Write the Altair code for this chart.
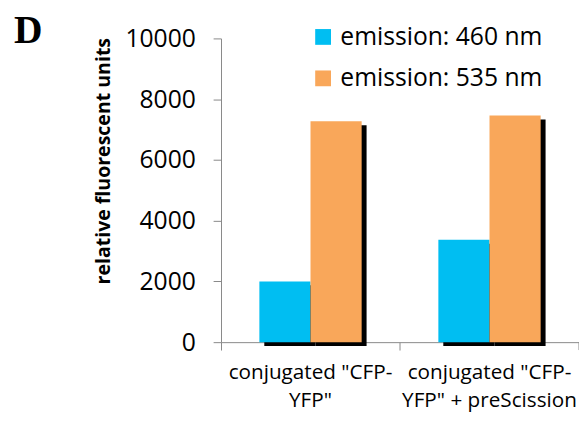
import altair as alt
import pandas as pd

categories = ['conjugated "CFP-YFP"', 'conjugated "CFP-YFP" + preScission']
series = ["emission: 460 nm", "emission: 535 nm"]
values_460 = [2000, 3370]
values_535 = [7270, 7460]
colors = ["#00BEF2", "#F9A75A"]
y_ticks = [0, 2000, 4000, 6000, 8000, 10000]

rows = []
for i, c in enumerate(categories):
    rows.append({"category": c, "series": series[0], "value": values_460[i]})
    rows.append({"category": c, "series": series[1], "value": values_535[i]})
df = pd.DataFrame(rows)

W, H = 363, 308
BAND = W / 2
FONT = "Open Sans"

x_enc = alt.X(
    "category:N",
    sort=categories,
    scale=alt.Scale(paddingInner=0, paddingOuter=0),
    axis=alt.Axis(
        title=None,
        labelAngle=0,
        bandPosition=0,
        tickSize=8,
        tickColor="#888888",
        domainColor="#888888",
        labelFont=FONT,
        labelFontSize=21,
        labelColor="black",
        labelPadding=12,
        labelLineHeight=28,
        labelBaseline="top",
        labelLimit=0,
        labelExpr="[substring(datum.label, 0, 16), substring(datum.label, 16)]",
    ),
)
y_enc = alt.Y(
    "value:Q",
    scale=alt.Scale(domain=[0, 10000]),
    axis=alt.Axis(
        title="relative fluorescent units",
        titleFont=FONT,
        titleFontSize=19.8,
        titleFontWeight="bold",
        titleColor="black",
        titlePadding=12,
        titleY=124,
        values=y_ticks,
        format="d",
        grid=False,
        tickSize=8,
        tickColor="#888888",
        domainColor="#888888",
        labelFont=FONT,
        labelFontSize=25,
        labelColor="black",
        labelPadding=18,
    ),
)


def xo(shift):
    return alt.XOffset(
        "series:N",
        sort=series,
        scale=alt.Scale(
            paddingInner=0, paddingOuter=0.75, range=[shift, BAND + shift]
        ),
    )


shadow = (
    alt.Chart(df)
    .mark_bar(color="black", yOffset=4, y2Offset=2)
    .encode(x=x_enc, xOffset=xo(5), y=y_enc)
)
bars = (
    alt.Chart(df)
    .mark_bar()
    .encode(
        x=x_enc,
        xOffset=xo(0),
        y=y_enc,
        color=alt.Color(
            "series:N",
            sort=series,
            scale=alt.Scale(domain=series, range=colors),
            legend=alt.Legend(
                title=None,
                orient="none",
                legendX=91,
                legendY=-14,
                symbolType="square",
                symbolSize=256,
                symbolStrokeWidth=0,
                labelFont=FONT,
                labelFontSize=25,
                labelColor="black",
                labelOffset=5,
                labelLimit=0,
                rowPadding=16,
            ),
        ),
    )
)

end_tick = (
    alt.Chart(pd.DataFrame({"t": [0]}))
    .mark_rule(color="#888888")
    .encode(x=alt.value(W), y=alt.value(H), y2=alt.value(H + 8))
)

panel_label = (
    alt.Chart(pd.DataFrame({"t": ["D"]}))
    .mark_text(
        font="Liberation Serif",
        fontSize=40,
        fontWeight="bold",
        align="left",
        baseline="middle",
        color="black",
    )
    .encode(text="t:N", x=alt.value(-210), y=alt.value(-7))
)

chart = (
    alt.layer(shadow, bars, end_tick, panel_label)
    .resolve_scale(xOffset="independent")
    .properties(
        width=W,
        height=H,
        autosize=alt.AutoSizeParams(type="none"),
        padding={"left": 216, "top": 28, "right": 0, "bottom": 70},
    )
    .configure_view(stroke=None)
)

chart.save("out.html", embed_options={"renderer": "svg", "actions": False})
